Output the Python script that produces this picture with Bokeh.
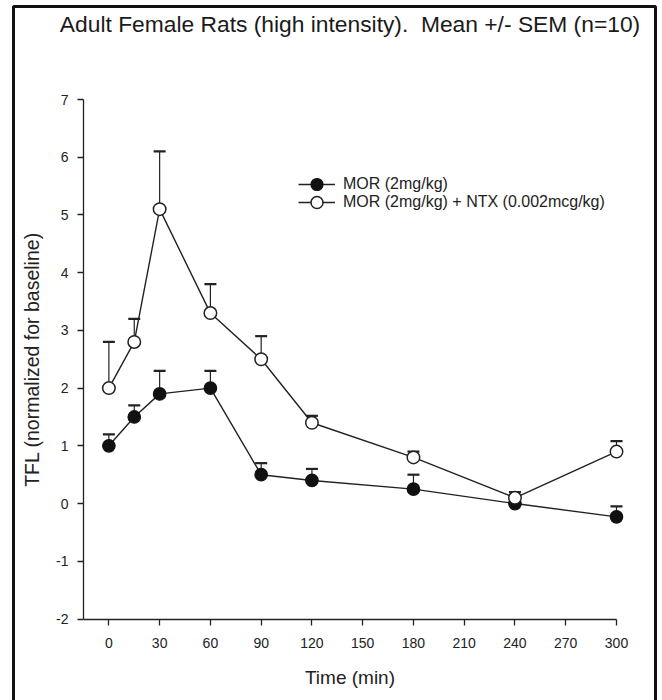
from bokeh.plotting import figure
from bokeh.models import (Range1d, FixedTicker, Whisker, TeeHead, ColumnDataSource,
                          Legend, LegendItem, Label, BoxAnnotation)
from bokeh.embed import file_html
from bokeh.resources import INLINE

# ---- data ----
time_min = [0, 15, 30, 60, 90, 120, 180, 240, 300]
mor = [1.0, 1.5, 1.9, 2.0, 0.5, 0.4, 0.25, 0.0, -0.23]
mor_sem = [0.2, 0.2, 0.4, 0.3, 0.2, 0.2, 0.25, 0.05, 0.18]
mor_ntx = [2.0, 2.8, 5.1, 3.3, 2.5, 1.4, 0.8, 0.1, 0.9]
mor_ntx_sem = [0.8, 0.4, 1.0, 0.5, 0.4, 0.12, 0.1, 0.1, 0.18]
x_ticks = [0, 30, 60, 90, 120, 150, 180, 210, 240, 270, 300]
y_ticks = [-2, -1, 0, 1, 2, 3, 4, 5, 6, 7]
x_axis_bounds = (-15, 300)
y_axis_bounds = (-2, 7)
title_text = "Adult Female Rats (high intensity).\u00a0 Mean +/- SEM (n=10)"
x_label = "Time (min)"
y_label = "TFL (normalized for baseline)"
series_labels = ["MOR (2mg/kg)", "MOR (2mg/kg) + NTX (0.002mcg/kg)"]

FONT = "Liberation Sans"
W, H = 662, 700

# layout (page pixels): plot frame covers nearly the whole page; axes sit at
# fixed positions inside it; a border box (open at the bottom) frames everything
FR_L, FR_R, FR_T, FR_B = 11, 657, 4, 700
BOX_L, BOX_R, BOX_T = 13, 655, 6
AX_L, AX_R, AX_T, AX_B = 83, 616, 99, 618.5   # pixel extents of the axis lines
px_per_x = (AX_R - AX_L) / (x_axis_bounds[1] - x_axis_bounds[0])
px_per_y = (AX_B - AX_T) / (y_axis_bounds[1] - y_axis_bounds[0])
x_start = x_axis_bounds[0] - (AX_L - FR_L) / px_per_x
x_end = x_axis_bounds[1] + (FR_R - AX_R) / px_per_x
y_end = y_axis_bounds[1] + (AX_T - FR_T) / px_per_y
y_start = y_axis_bounds[0] - (FR_B - AX_B) / px_per_y

p = figure(width=W, height=H, output_backend="svg", toolbar_location=None,
           x_range=Range1d(x_start, x_end), y_range=Range1d(y_start, y_end),
           min_border_left=FR_L, min_border_right=W - FR_R,
           min_border_top=FR_T, min_border_bottom=H - FR_B)
p.outline_line_color = None
p.xgrid.grid_line_color = None
p.ygrid.grid_line_color = None
p.background_fill_color = "white"
p.border_fill_color = "white"

for ax in (p.xaxis[0], p.yaxis[0]):
    ax.axis_line_color = "#222222"
    ax.axis_line_width = 1.3
    ax.major_tick_line_color = "#222222"
    ax.major_tick_line_width = 1.3
    ax.major_tick_out = 6
    ax.major_tick_in = 0
    ax.minor_tick_line_color = None
    ax.major_label_text_font = FONT
    ax.major_label_text_font_size = "14px"
    ax.major_label_text_color = "#222222"
    ax.axis_label_text_font = FONT
    ax.axis_label_text_font_style = "normal"
    ax.axis_label_text_color = "#222222"

p.xaxis.fixed_location = y_axis_bounds[0]
p.yaxis.fixed_location = x_axis_bounds[0]
p.xaxis.bounds = x_axis_bounds
p.yaxis.bounds = y_axis_bounds
p.xaxis.ticker = FixedTicker(ticks=x_ticks)
p.yaxis.ticker = FixedTicker(ticks=y_ticks)
p.yaxis.major_label_overrides = {t: str(t) for t in y_ticks}
p.xaxis.major_label_overrides = {t: str(t) for t in x_ticks}
p.xaxis.axis_label = x_label
p.yaxis.axis_label = y_label
p.xaxis.axis_label_text_font_size = "19px"
p.yaxis.axis_label_text_font_size = "19.5px"
p.xaxis.major_label_standoff = 13
p.yaxis.major_label_standoff = 9
p.xaxis.axis_label_standoff = 15
p.yaxis.axis_label_standoff = 10

border = BoxAnnotation(left=BOX_L - FR_L, right=BOX_R - FR_L,
                       top=FR_B - BOX_T, bottom=-30,
                       left_units="screen", right_units="screen",
                       top_units="screen", bottom_units="screen",
                       fill_alpha=0, line_color="#111111", line_alpha=1.0,
                       line_width=3, level="underlay")
p.add_layout(border)

title = Label(x=349.5 - FR_L, y=FR_B - 23, x_units="screen", y_units="screen",
              text=title_text, text_align="center", text_baseline="middle",
              text_font=FONT, text_font_size="22.8px", text_color="#1a1a1a")
p.add_layout(title)

src1 = ColumnDataSource(dict(x=time_min, y=mor,
                             up=[v + e for v, e in zip(mor, mor_sem)]))
src2 = ColumnDataSource(dict(x=time_min, y=mor_ntx,
                             up=[v + e for v, e in zip(mor_ntx, mor_ntx_sem)]))

for src in (src1, src2):
    w = Whisker(source=src, base="x", lower="y", upper="up", dimension="height",
                line_color="#222222", line_width=1.2, lower_head=None,
                upper_head=TeeHead(size=12, line_color="#222222", line_width=2.2))
    p.add_layout(w)

l1 = p.line("x", "y", source=src1, line_color="#222222", line_width=1.4)
l2 = p.line("x", "y", source=src2, line_color="#222222", line_width=1.4)
s1 = p.scatter("x", "y", source=src1, size=12.5, marker="circle",
               fill_color="#111111", line_color="#111111", line_width=1.2)
s2 = p.scatter("x", "y", source=src2, size=12.5, marker="circle",
               fill_color="white", line_color="#222222", line_width=1.5)

# one legend per row so the legend markers keep the size of the data markers
row_centers = [184, 201.7]
for label, rends, cy in zip(series_labels, [[l1, s1], [l2, s2]], row_centers):
    lg = Legend(items=[LegendItem(label=label, renderers=rends)],
                location=(298 - FR_L, FR_B - (cy + 15)), padding=0, margin=0,
                spacing=0, glyph_width=37, glyph_height=30, label_height=30,
                label_standoff=8, label_text_font=FONT,
                label_text_font_size="16px", label_text_color="#222222",
                border_line_color=None, background_fill_alpha=0)
    p.add_layout(lg)

open("out.html", "w").write(file_html(p, INLINE))
